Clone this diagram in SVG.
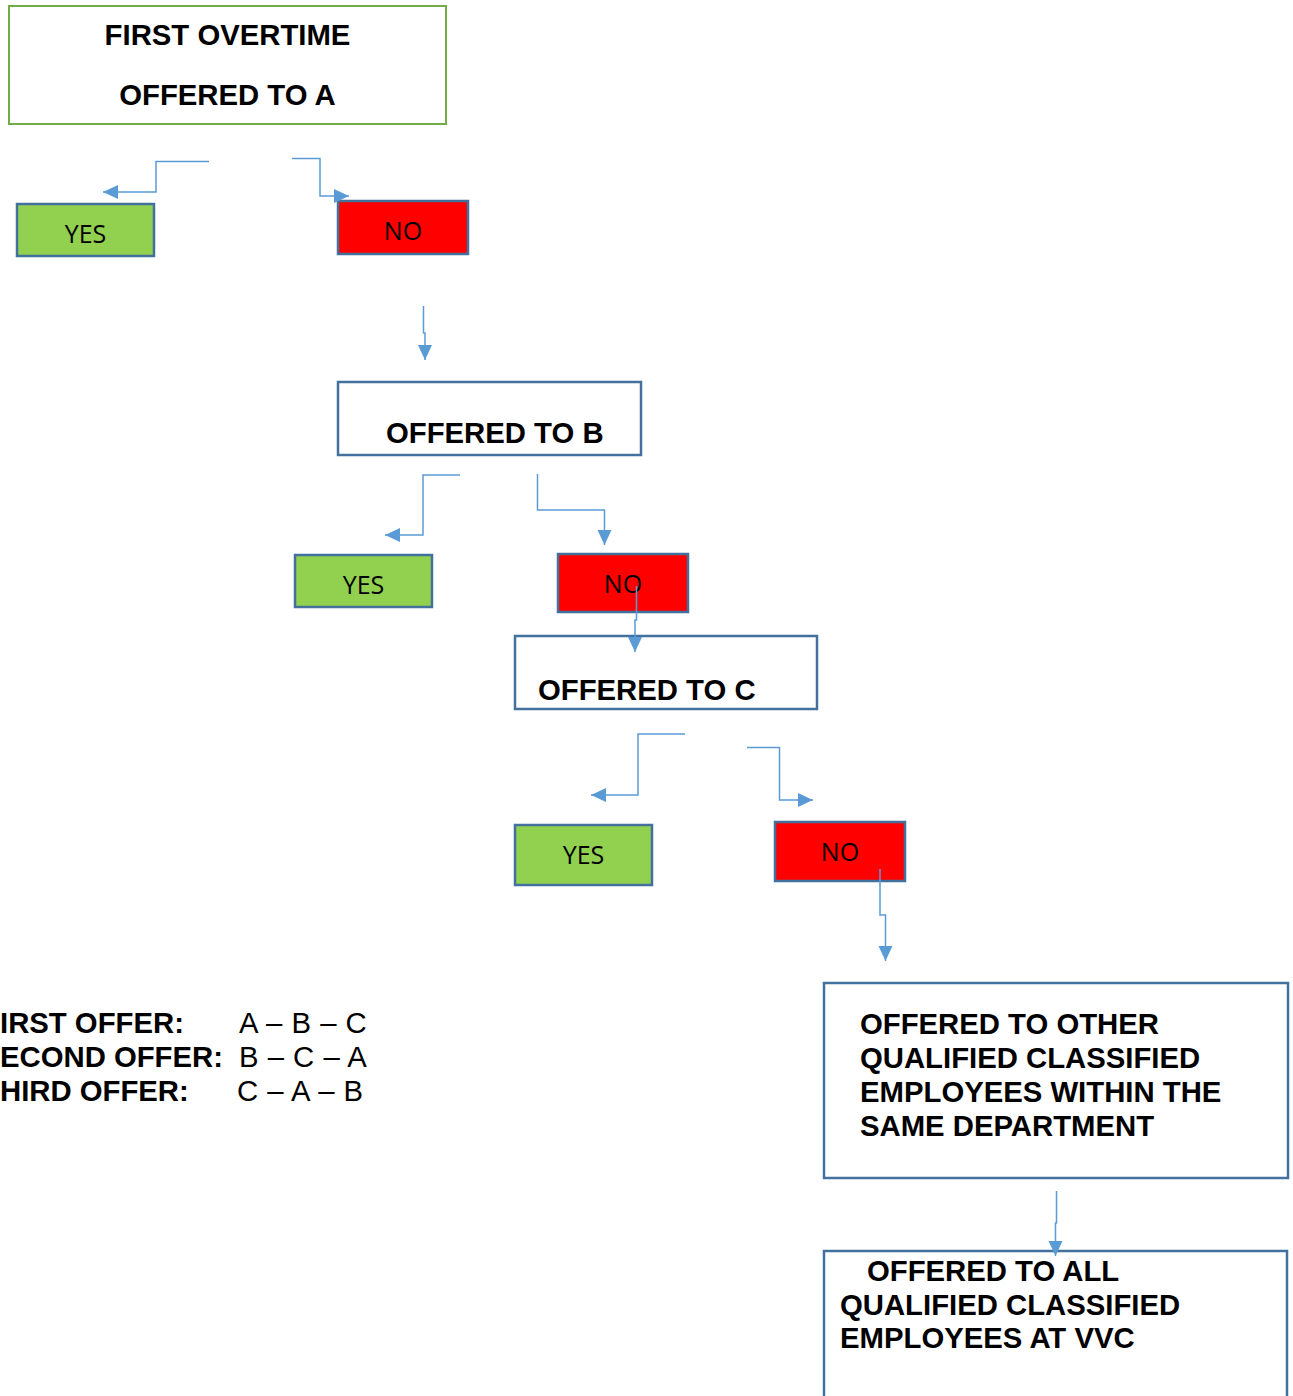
<svg xmlns="http://www.w3.org/2000/svg" width="1293" height="1396" viewBox="0 0 1293 1396">
<style>
.box{fill:#fff;stroke:#41719C;stroke-width:2.5}
.yes{fill:#92D050;stroke:#41719C;stroke-width:2.5}
.no{fill:#FF0000;stroke:#41719C;stroke-width:2.5}
.bt{font-family:"Liberation Sans",Arial,sans-serif;font-weight:bold;font-size:29.3px;fill:#000}
.rt{font-family:"Liberation Sans",Arial,sans-serif;font-size:29.3px;fill:#000;word-spacing:1px}
.lt{font-family:"Open Sans","Noto Sans",sans-serif;font-size:25px;fill:#000;text-anchor:middle}
.c{fill:none;stroke:#5B9BD5;stroke-width:1.5;marker-end:url(#ah)}
</style>
<defs>
<marker id="ah" markerUnits="userSpaceOnUse" markerWidth="16" markerHeight="16" viewBox="0 0 16 16" refX="15" refY="8" orient="auto">
<path d="M0,1 L15,8 L0,15 Z" fill="#5B9BD5"/>
</marker>
</defs>
<rect width="1293" height="1396" fill="#fff"/>
<g id="nodeA">
<rect x="9" y="6" width="437" height="118" fill="#fff" stroke="#70AD47" stroke-width="2"/>
<text class="bt" x="227.5" y="45" text-anchor="middle">FIRST OVERTIME</text>
<text class="bt" x="227.5" y="105" text-anchor="middle">OFFERED TO A</text>
</g>
<g id="yesA"><rect class="yes" x="17" y="204" width="137" height="52"/><text class="lt" x="85.5" y="243">YES</text></g>
<g id="noA"><rect class="no" x="338" y="201" width="130" height="53"/><text class="lt" x="403" y="240">NO</text></g>
<g id="nodeB"><rect class="box" x="338" y="382" width="303" height="73"/><text class="bt" x="386" y="443">OFFERED TO B</text></g>
<g id="yesB"><rect class="yes" x="295" y="555" width="137" height="52"/><text class="lt" x="363.5" y="594">YES</text></g>
<g id="noB"><rect class="no" x="558" y="554" width="130" height="58"/><text class="lt" x="623" y="593">NO</text></g>
<g id="nodeC"><rect class="box" x="515" y="636" width="302" height="73"/><text class="bt" x="538" y="700">OFFERED TO C</text></g>
<g id="yesC"><rect class="yes" x="515" y="825" width="137" height="60"/><text class="lt" x="583.5" y="864">YES</text></g>
<g id="noC"><rect class="no" x="775" y="822" width="130" height="59"/><text class="lt" x="840" y="861">NO</text></g>
<g id="nodeOther">
<rect class="box" x="824" y="983" width="464" height="195"/>
<text class="bt" x="860" y="1034">OFFERED TO OTHER</text>
<text class="bt" x="860" y="1068">QUALIFIED CLASSIFIED</text>
<text class="bt" x="860" y="1102">EMPLOYEES WITHIN THE</text>
<text class="bt" x="860" y="1136">SAME DEPARTMENT</text>
</g>
<g id="nodeAll">
<rect class="box" x="824" y="1251" width="463" height="180"/>
<text class="bt" x="867" y="1281">OFFERED TO ALL</text>
<text class="bt" x="840" y="1315">QUALIFIED CLASSIFIED</text>
<text class="bt" x="840" y="1348">EMPLOYEES AT VVC</text>
</g>
<g id="legend">
<text class="bt" x="0" y="1033">IRST OFFER:</text>
<text class="rt" x="239" y="1033">A – B – C</text>
<text class="bt" x="0" y="1067">ECOND OFFER:</text>
<text class="rt" x="239" y="1067">B – C – A</text>
<text class="bt" x="0" y="1101">HIRD OFFER:</text>
<text class="rt" x="237" y="1101">C – A – B</text>
</g>
<g id="connectors">
<path class="c" d="M209,161.5 H156 V192 H103"/>
<path class="c" d="M292,158.5 H320 V196 H349"/>
<path class="c" d="M423.5,306 V333 H425 V360"/>
<path class="c" d="M460,475 H423 V535 H385"/>
<path class="c" d="M537.5,474 V510 H604.5 V545"/>
<path class="c" d="M636.5,586 V620 H635 V652"/>
<path class="c" d="M685,734 H638 V795 H591"/>
<path class="c" d="M747,747.5 H779.5 V800 H813"/>
<path class="c" d="M880,869 V915 H885.5 V961"/>
<path class="c" d="M1056.5,1191 V1223 H1055.5 V1256"/>
</g>
</svg>
